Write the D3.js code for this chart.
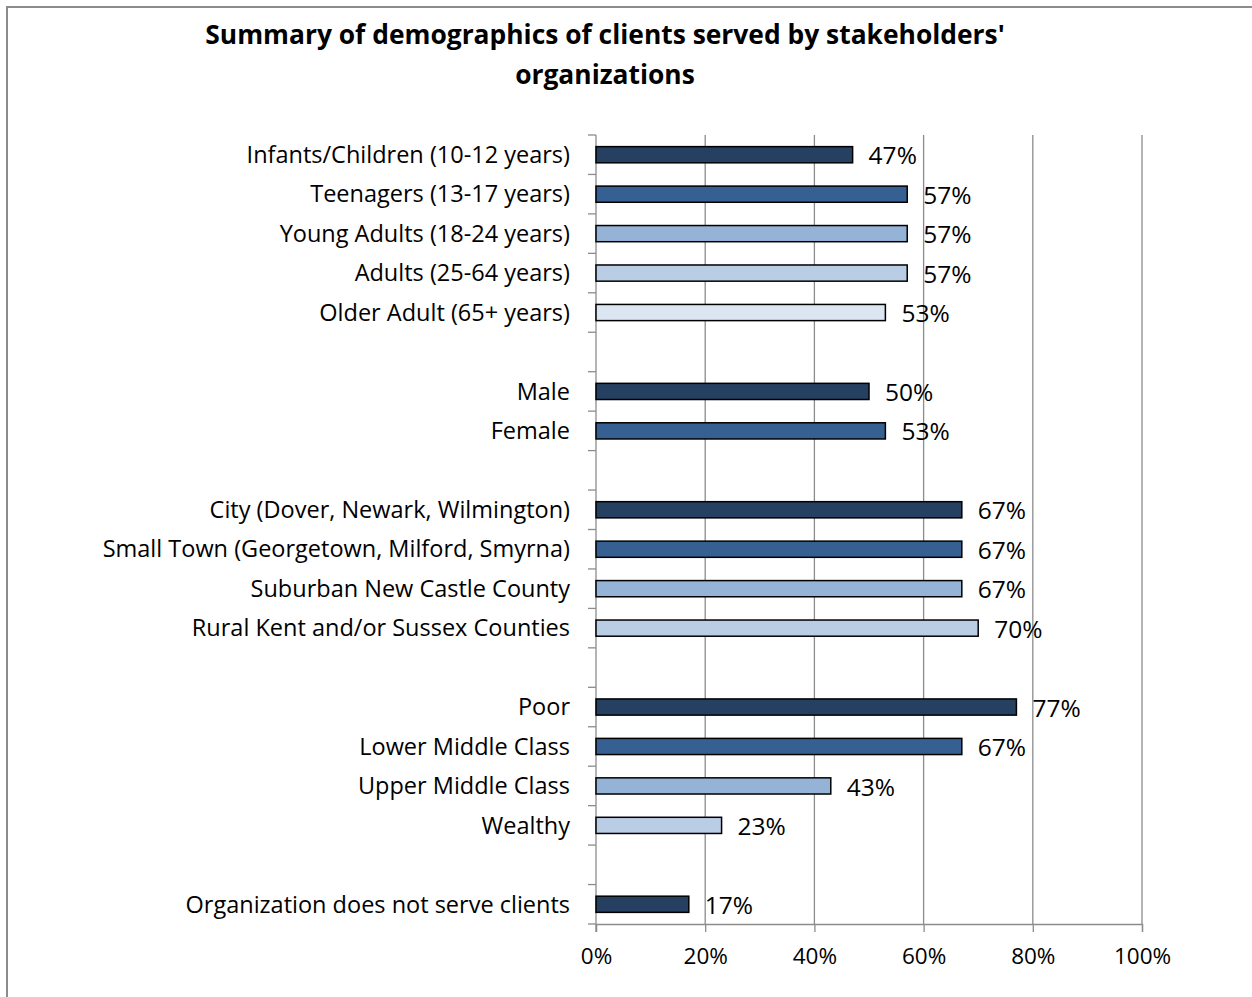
<!DOCTYPE html>
<html>
<head>
<meta charset="utf-8">
<script src="https://cdn.jsdelivr.net/npm/d3@7"></script>
<style>
  body { margin: 0; background: #fff; }
  text { font-family: "Open Sans", sans-serif; fill: #000; }
</style>
</head>
<body>
<svg id="chart"></svg>
<script>
// data, one pair of arrays per group of bars
const ageLabels = ["Infants/Children (10-12 years)", "Teenagers (13-17 years)", "Young Adults (18-24 years)", "Adults (25-64 years)", "Older Adult (65+ years)"];
const ageValues = [0.47, 0.57, 0.57, 0.57, 0.53];
const genderLabels = ["Male", "Female"];
const genderValues = [0.50, 0.53];
const areaLabels = ["City (Dover, Newark, Wilmington)", "Small Town (Georgetown, Milford, Smyrna)", "Suburban New Castle County", "Rural Kent and/or Sussex Counties"];
const areaValues = [0.67, 0.67, 0.67, 0.70];
const incomeLabels = ["Poor", "Lower Middle Class", "Upper Middle Class", "Wealthy"];
const incomeValues = [0.77, 0.67, 0.43, 0.23];
const otherLabels = ["Organization does not serve clients"];
const otherValues = [0.17];
const tickValues = [0, 0.2, 0.4, 0.6, 0.8, 1];
const shades = ["#254061", "#376092", "#95B3D7", "#B9CDE5", "#DCE6F2"];

const title1 = "Summary of demographics of clients served by stakeholders'";
const title2 = "organizations";

let width = 1252;
let height = 997;

// build rows, with an empty slot between groups
let groups = [
  [ageLabels, ageValues],
  [genderLabels, genderValues],
  [areaLabels, areaValues],
  [incomeLabels, incomeValues],
  [otherLabels, otherValues]
];
let rows = [];
groups.forEach((g, gi) => {
  g[0].forEach((lab, i) => rows.push({ label: lab, value: g[1][i], shade: i }));
  if (gi < groups.length - 1) rows.push(null);
});
rows.forEach((r, i) => { if (r) r.idx = i; });
let bars = rows.filter(r => r);

var svg = d3.select("#chart").attr("width", width).attr("height", height);

//outer frame
svg.append("rect")
  .attr("x", 7).attr("y", 7)
  .attr("width", width + 10).attr("height", height + 10)
  .attr("fill", "none").attr("stroke", "#8c8c8c").attr("stroke-width", 2);

let x = d3.scaleLinear().domain([0, 1]).range([596, 1142]);
let y = d3.scaleBand()
  .domain(d3.range(rows.length))
  .range([135, 924])
  .paddingInner(0.59)
  .paddingOuter(0.295);
let step = y.step();

//title
svg.append("text").attr("x", 605).attr("y", 44)
  .attr("text-anchor", "middle")
  .style("font-size", "26.4px").style("font-weight", "bold").text(title1);
svg.append("text").attr("x", 605).attr("y", 84)
  .attr("text-anchor", "middle")
  .style("font-size", "26.4px").style("font-weight", "bold").text(title2);

//gridlines
svg.append("g").selectAll("line")
  .data(tickValues.filter(d => d > 0))
  .join("line")
  .attr("x1", d => x(d)).attr("x2", d => x(d))
  .attr("y1", 135).attr("y2", 924)
  .attr("stroke", "#8c8c8c").attr("stroke-width", 1.3);

//bottom axis
let xAxis = svg.append("g")
  .attr("transform", "translate(0,924)")
  .call(d3.axisBottom(x).tickValues(tickValues).tickFormat(d3.format(".0%")).tickSize(8).tickPadding(16));
xAxis.select(".domain").attr("stroke", "#8c8c8c").attr("stroke-width", 1.3);
xAxis.selectAll(".tick line").attr("stroke", "#8c8c8c").attr("stroke-width", 1.3);
xAxis.selectAll("text").style("font-size", "22.5px").style("font-family", "Open Sans").attr("fill", "#000");

//left axis with ticks between slots
let leftAxis = svg.append("g");
leftAxis.append("line")
  .attr("x1", 596).attr("x2", 596).attr("y1", 135).attr("y2", 932)
  .attr("stroke", "#8c8c8c").attr("stroke-width", 1.3);
leftAxis.selectAll(".tk")
  .data(d3.range(rows.length + 1))
  .join("line")
  .attr("class", "tk")
  .attr("x1", 588).attr("x2", 596)
  .attr("y1", i => 135 + i * step).attr("y2", i => 135 + i * step)
  .attr("stroke", "#8c8c8c").attr("stroke-width", 1.3);

//bars
svg.append("g").selectAll("rect")
  .data(bars)
  .join("rect")
  .attr("x", x(0))
  .attr("y", d => y(d.idx))
  .attr("width", d => x(d.value) - x(0))
  .attr("height", y.bandwidth())
  .attr("fill", d => shades[d.shade])
  .attr("stroke", "#000").attr("stroke-width", 1.5);

//category labels
svg.append("g").selectAll("text")
  .data(bars)
  .join("text")
  .attr("x", 570)
  .attr("y", d => y(d.idx) + y.bandwidth() / 2)
  .attr("dy", "0.35em")
  .attr("text-anchor", "end")
  .style("font-size", "23.5px")
  .text(d => d.label);

//value labels
svg.append("g").selectAll("text")
  .data(bars)
  .join("text")
  .attr("x", d => x(d.value) + 16)
  .attr("y", d => y(d.idx) + y.bandwidth() / 2 + 1)
  .attr("dy", "0.35em")
  .style("font-size", "24.5px")
  .text(d => d3.format(".0%")(d.value));
</script>
</body>
</html>
